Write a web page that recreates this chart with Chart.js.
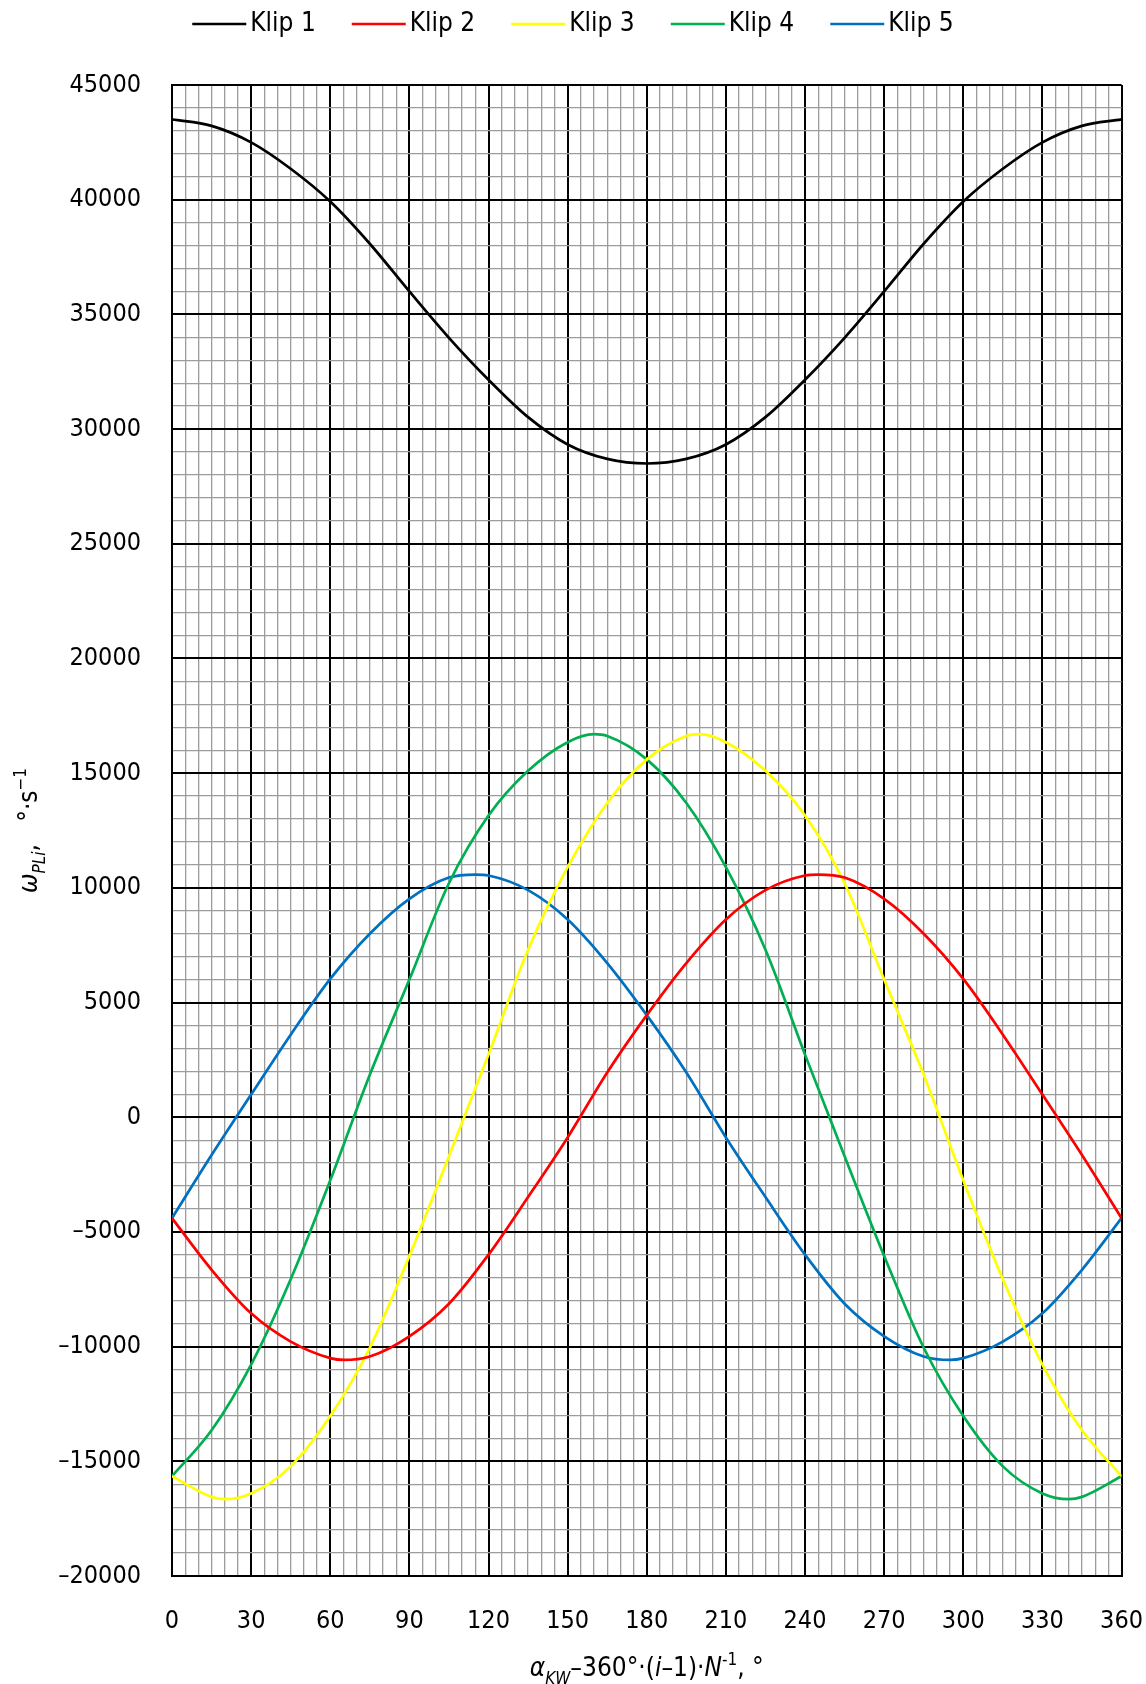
<!DOCTYPE html>
<html>
<head>
<meta charset="utf-8">
<title>Klip</title>
<script src="https://cdn.jsdelivr.net/npm/chart.js@4.4.1/dist/chart.umd.min.js"></script>
<style>
  html, body { margin: 0; padding: 0; background: #fff; }
  #wrap { width: 1146px; height: 1684px; }
</style>
</head>
<body>
<div id="wrap"><canvas id="chart" width="1146" height="1684"></canvas></div>
<script>
// kąty odczytu (co 15°, plus położenie ekstremów danego przebiegu)
var KLIP_1_X = [0, 15, 30, 45, 60, 75, 90, 105, 120, 135, 150, 165, 180,
  195, 210, 225, 240, 255, 270, 285, 300, 315, 330, 345, 360];
var KLIP_1 = [43500, 43220, 42500, 41350, 39920, 38080, 36000, 33980, 32150, 30520, 29330, 28700, 28500,
  28700, 29330, 30520, 32150, 33980, 36000, 38080, 39920, 41350, 42500, 43220, 43500];

var KLIP_2_X = [0, 15, 30, 45, 60, 65, 75, 90, 105, 120, 135, 150, 165, 180,
  195, 210, 225, 240, 245, 255, 270, 285, 300, 315, 330, 345, 360];
var KLIP_2 = [-4400, -6650, -8550, -9780, -10500, -10580, -10430, -9550, -8130, -5990, -3480, -880, 1950, 4450,
  6720, 8620, 9900, 10540, 10580, 10450, 9520, 8000, 6030, 3600, 990, -1650, -4400];

var KLIP_3_X = [0, 15, 20, 30, 45, 60, 75, 90, 105, 120, 135, 150, 165, 180,
  195, 200, 210, 225, 240, 255, 270, 285, 300, 315, 330, 345, 360];
var KLIP_3 = [-15650, -16550, -16650, -16400, -15220, -13030, -10050, -6050, -1700, 2730, 7300, 10900, 13700, 15600,
  16620, 16700, 16350, 15100, 13150, 10200, 6000, 1850, -2750, -7060, -10780, -13650, -15650];

var KLIP_4_X = [0, 15, 30, 45, 60, 75, 90, 105, 120, 135, 150, 160, 165, 180,
  195, 210, 225, 240, 255, 270, 285, 300, 315, 330, 340, 345, 360];
var KLIP_4 = [-15650, -13650, -10780, -7060, -2750, 1850, 6000, 10200, 13150, 15100, 16350, 16700, 16620, 15600,
  13700, 10900, 7300, 2730, -1700, -6050, -10050, -13030, -15220, -16400, -16650, -16550, -15650];

var KLIP_5_X = [0, 15, 30, 45, 60, 75, 90, 105, 115, 120, 135, 150, 165, 180,
  195, 210, 225, 240, 255, 270, 285, 295, 300, 315, 330, 345, 360];
var KLIP_5 = [-4400, -1650, 990, 3600, 6030, 8000, 9520, 10450, 10580, 10540, 9900, 8620, 6720, 4450,
  1950, -880, -3480, -5990, -8130, -9550, -10430, -10580, -10500, -9780, -8550, -6650, -4400];

var SERIES_NAMES = ['Klip 1', 'Klip 2', 'Klip 3', 'Klip 4', 'Klip 5'];
var SERIES_X = [KLIP_1_X, KLIP_2_X, KLIP_3_X, KLIP_4_X, KLIP_5_X];
var SERIES_VALUES = [KLIP_1, KLIP_2, KLIP_3, KLIP_4, KLIP_5];
var SERIES_COLORS = ['#000000', '#ff0000', '#ffff00', '#00b050', '#0070c0'];

// zakresy osi i podziałki (główne z opisem, pomocnicze tylko siatka)
var X_MIN = 0, X_MAX = 360, X_MAJOR = 30, X_MINOR = 5;
var Y_MIN = -20000, Y_MAX = 45000, Y_MAJOR = 5000, Y_MINOR = 1000;

// tytuły osi jako fragmenty: [tekst, styl] – n: zwykły, i: kursywa, sub: indeks dolny, sup: górny
var X_TITLE = [['α', 'i'], ['KW', 'sub'], ['–360°·(', 'n'], ['i', 'i'], ['–1)·', 'n'], ['N', 'i'], ['-1', 'sup'], [', °', 'n']];
var Y_TITLE = [['ω', 'i'], ['PLi', 'sub'], [',   °·s', 'n'], ['−1', 'sup']];

var FONT = "'DejaVu Sans Condensed', 'DejaVu Sans', sans-serif";

function segFont(style, size) {
  var s = style === 'sub' || style === 'sup' ? Math.round(size * 0.65) : size;
  var it = style === 'i' || style === 'sub' ? 'italic ' : '';
  return it + s + 'px ' + FONT;
}

// rysuje tytuł z indeksami, wyśrodkowany w (0,0) aktualnego układu
function drawRichText(ctx, segs, size) {
  var total = 0;
  segs.forEach(function (s) {
    ctx.font = segFont(s[1], size);
    total += ctx.measureText(s[0]).width;
  });
  var x = -total / 2;
  ctx.textBaseline = 'alphabetic';
  ctx.textAlign = 'left';
  ctx.fillStyle = '#000';
  segs.forEach(function (s) {
    ctx.font = segFont(s[1], size);
    var dy = s[1] === 'sub' ? size * 0.28 : s[1] === 'sup' ? -size * 0.42 : 0;
    ctx.fillText(s[0], x, size * 0.36 + dy);
    x += ctx.measureText(s[0]).width;
  });
}

var axisTitles = {
  id: 'axisTitles',
  afterDraw: function (chart) {
    var ctx = chart.ctx;
    var a = chart.chartArea;
    ctx.save();
    ctx.translate((a.left + a.right) / 2, 1667);
    drawRichText(ctx, X_TITLE, 26);
    ctx.restore();
    ctx.save();
    ctx.translate(28, (a.top + a.bottom) / 2);
    ctx.rotate(-Math.PI / 2);
    drawRichText(ctx, Y_TITLE, 26);
    ctx.restore();
  }
};

// legenda: krótka linia i tuż za nią nazwa, całość wyśrodkowana nad wykresem
var lineLegend = {
  id: 'lineLegend',
  afterDraw: function (chart) {
    var ctx = chart.ctx;
    var LINE = 54, GAP = 4, SPACE = 36, Y = 24;
    ctx.save();
    ctx.font = '26px ' + FONT;
    var widths = chart.data.datasets.map(function (d) {
      return LINE + GAP + ctx.measureText(d.label).width;
    });
    var total = widths.reduce(function (s, w) { return s + w; }, 0) + SPACE * (widths.length - 1);
    var x = (chart.width - total) / 2;
    chart.data.datasets.forEach(function (d, i) {
      ctx.strokeStyle = d.borderColor;
      ctx.lineWidth = 2.6;
      ctx.beginPath();
      ctx.moveTo(x, Y);
      ctx.lineTo(x + LINE, Y);
      ctx.stroke();
      ctx.fillStyle = '#000';
      ctx.textAlign = 'left';
      ctx.textBaseline = 'middle';
      ctx.fillText(d.label, x + LINE + GAP, Y);
      x += widths[i] + SPACE;
    });
    ctx.restore();
  }
};

function gridColor(major) {
  return function (c) {
    return c.tick && c.tick.value % major === 0 ? '#000000' : '#9c9c9c';
  };
}
function gridWidth(major) {
  return function (c) {
    return c.tick && c.tick.value % major === 0 ? 2 : 1.3;
  };
}

var datasets = SERIES_NAMES.map(function (name, k) {
  return {
    label: name,
    data: SERIES_X[k].map(function (a, i) {
      return { x: a, y: SERIES_VALUES[k][i] };
    }),
    borderColor: SERIES_COLORS[k],
    backgroundColor: SERIES_COLORS[k],
    borderWidth: 2.7,
    pointRadius: 0,
    cubicInterpolationMode: 'monotone',
    fill: false
  };
});

new Chart(document.getElementById('chart'), {
  type: 'line',
  data: { datasets: datasets },
  options: {
    responsive: false,
    animation: false,
    devicePixelRatio: 1,
    layout: { padding: { top: 85, right: 24, bottom: 0, left: 0 } },
    plugins: {
      legend: { display: false },
      tooltip: { enabled: false }
    },
    scales: {
      x: {
        type: 'linear',
        min: X_MIN,
        max: X_MAX,
        afterFit: function (s) { s.height = 108; },
        border: { display: true, color: '#000', width: 2 },
        grid: {
          color: gridColor(X_MAJOR),
          lineWidth: gridWidth(X_MAJOR),
          drawTicks: true,
          tickLength: 27,
          tickColor: 'rgba(0,0,0,0)'
        },
        ticks: {
          stepSize: X_MINOR,
          autoSkip: false,
          maxTicksLimit: 500,
          maxRotation: 0,
          padding: 3,
          color: '#000',
          font: { family: FONT, size: 25 },
          callback: function (v) { return v % X_MAJOR === 0 ? String(v) : ''; }
        }
      },
      y: {
        type: 'linear',
        min: Y_MIN,
        max: Y_MAX,
        afterFit: function (s) { s.width = 172; },
        border: { display: true, color: '#000', width: 2 },
        grid: { color: gridColor(Y_MAJOR), lineWidth: gridWidth(Y_MAJOR), drawTicks: false },
        ticks: {
          stepSize: Y_MINOR,
          autoSkip: false,
          maxTicksLimit: 500,
          padding: 31,
          color: '#000',
          font: { family: FONT, size: 25 },
          callback: function (v) { return v % Y_MAJOR === 0 ? String(v).replace('-', '–') : ''; }
        }
      }
    }
  },
  plugins: [axisTitles, lineLegend]
});
</script>
</body>
</html>
